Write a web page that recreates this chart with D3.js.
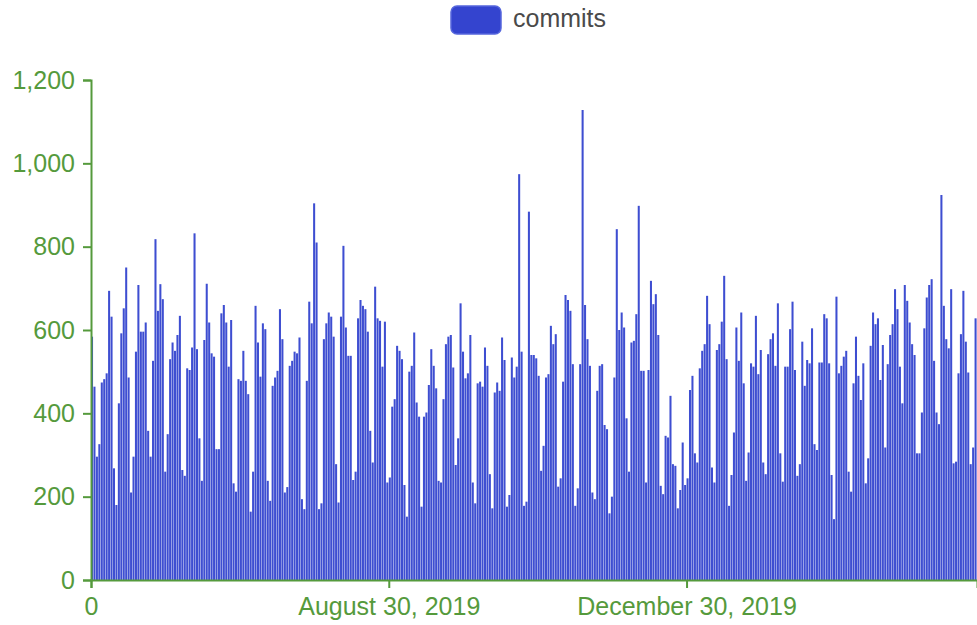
<!DOCTYPE html>
<html><head><meta charset="utf-8">
<script src="https://cdn.jsdelivr.net/npm/d3@7"></script>
<style>body{margin:0;background:#fff} svg{display:block}</style>
</head><body><svg id="c" width="977" height="625"></svg>
<script>
const seriesName = "commits";
const startDate = "2019-04-30";
const commits = [
584,464,296,326,474,482,496,694,632,268,180,424,592,652,750,486,210,296,548,708,596,596,618,358,296,526,818,646,
710,674,260,350,530,570,550,588,634,264,250,508,504,558,832,554,340,238,576,711,618,544,536,314,314,640,660,618,512,624,232,
212,482,478,550,478,446,164,260,658,570,488,616,602,238,190,466,486,502,650,578,210,223,514,526,548,544,582,194,170,478,668,
616,904,810,170,184,578,616,642,632,584,278,186,632,802,606,538,538,240,260,628,672,658,650,596,358,282,704,628,622,512,
620,234,246,416,434,562,550,530,228,152,500,514,594,426,392,176,392,402,468,554,514,460,238,234,434,566,584,588,510,276,340,
664,548,484,496,588,234,184,472,476,464,558,514,254,172,450,474,454,582,528,176,204,534,486,512,974,548,178,188,884,540,540,
532,490,262,322,486,494,610,566,590,224,244,476,684,672,646,518,178,220,518,1128,660,578,514,210,194,454,514,518,372,362,
160,200,486,842,600,642,606,388,260,570,574,638,898,502,502,234,504,718,662,686,588,226,206,346,342,442,278,274,172,216,330,
228,244,456,490,304,282,508,550,566,682,614,270,234,552,566,620,730,530,178,252,354,606,526,642,472,238,306,520,512,634,
494,552,282,254,542,578,592,514,664,304,236,512,512,602,668,504,250,278,572,466,528,520,604,326,312,522,522,638,628,520,252,
146,680,496,514,536,550,260,212,472,584,490,432,520,232,292,562,642,614,628,480,564,318,518,588,614,698,650,512,424,708,670,
618,566,540,304,304,402,604,678,708,722,526,402,374,924,658,578,556,698,280,284,496,590,694,572,498,278,318,628
];
const yTickValues = [0, 200, 400, 600, 800, 1000, 1200];
const xTickDates = ["2019-04-30", "2019-08-30", "2019-12-30"];
const xTickLabels = ["0", "August 30, 2019", "December 30, 2019"];

const parse = d3.utcParse("%Y-%m-%d");
const t0 = parse(startDate);
const data = commits.map((v, i) => ({date: d3.utcDay.offset(t0, i), value: v}));

const axisColor = "#559a3c";
const barColor = "#3444cf";
const font = "'Liberation Sans', Arial, Helvetica, sans-serif";

const svg = d3.select("#c");
const x = d3.scaleUtc().domain([t0, d3.utcDay.offset(t0, commits.length)]).range([91, 977]);
const y = d3.scaleLinear().domain([0, 1200]).range([580, 80]);

// bars
svg.append("g").selectAll("rect").data(data).join("rect")
  .attr("x", d => x(d.date))
  .attr("y", d => y(d.value))
  .attr("width", d => Math.max(0.5, x(d3.utcDay.offset(d.date, 1)) - x(d.date) - 0.4))
  .attr("height", d => y(0) - y(d.value))
  .attr("fill", barColor)
  .attr("fill-opacity", 0.95);

// y axis
const gy = svg.append("g").attr("transform", "translate(91,0)")
  .call(d3.axisLeft(y).tickValues(yTickValues).tickFormat(d3.format(",")).tickSize(8).tickPadding(8));
// x axis
const gx = svg.append("g").attr("transform", "translate(0,580)")
  .call(d3.axisBottom(x).tickValues(xTickDates.map(parse)).tickFormat((d, i) => xTickLabels[i]).tickSize(8).tickPadding(9));

[gy, gx].forEach(g => {
  g.select(".domain").attr("stroke", axisColor).attr("stroke-width", 2);
  g.selectAll(".tick line").attr("stroke", axisColor).attr("stroke-width", 2);
  g.selectAll(".tick text").attr("fill", axisColor).style("font-family", font).style("font-size", "25px");
});

// legend
const lg = svg.append("g");
lg.append("rect").attr("x", 451).attr("y", 6).attr("width", 50).attr("height", 28).attr("rx", 6)
  .attr("fill", barColor).attr("stroke", "#5566dd").attr("stroke-width", 1.5);
lg.append("text").attr("x", 513).attr("y", 20).attr("dominant-baseline", "middle")
  .style("font-family", font).style("font-size", "25px").attr("fill", "#4a4a4a")
  .text(seriesName);
</script>
</body></html>
